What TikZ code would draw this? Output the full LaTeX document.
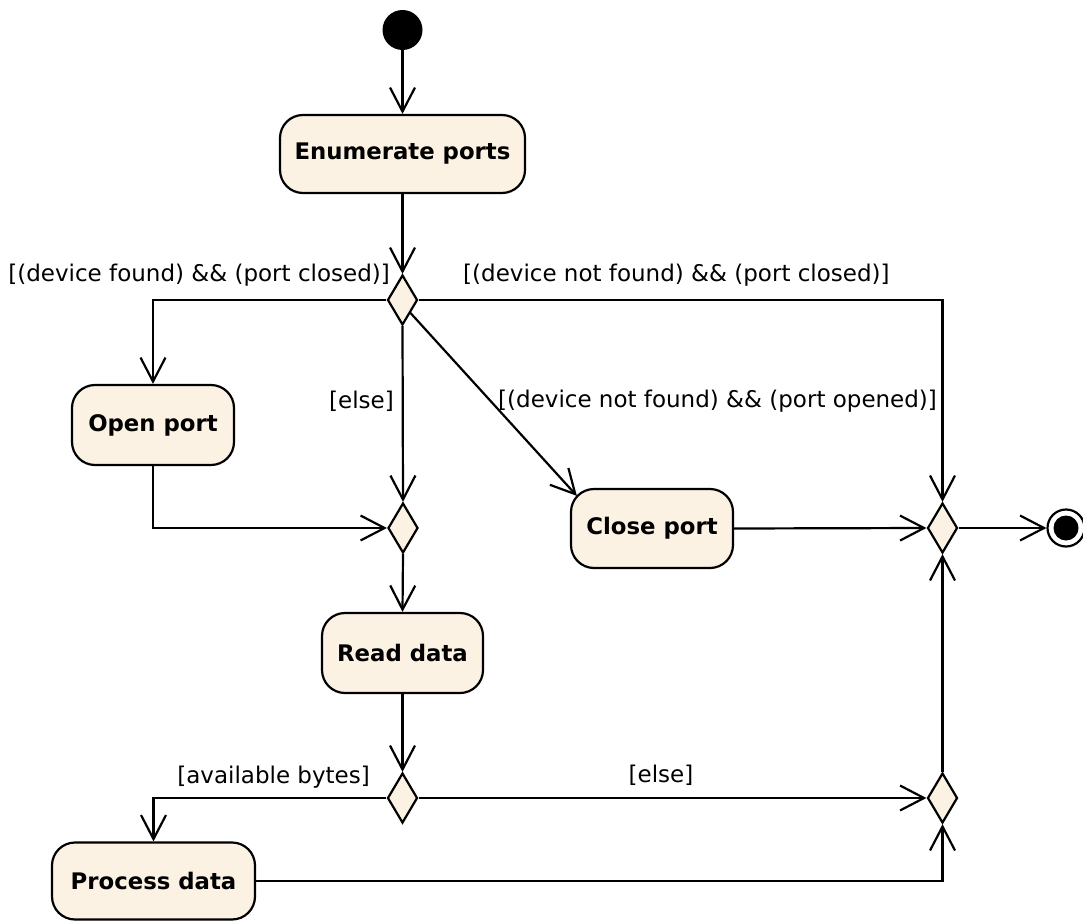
\documentclass[tikz,border=0pt]{standalone}
\usepackage{fontspec}
\setmainfont{DejaVu Sans}
\usetikzlibrary{shapes.geometric,arrows.meta,calc}
\definecolor{actfill}{HTML}{FBF2E4}
\begin{document}
\begin{tikzpicture}[x=1pt,y=-1pt,
  every node/.style={font=\fontsize{23}{27}\selectfont},
  action/.style={draw,line width=2.2pt,fill=actfill,rectangle,rounded corners=23pt,
    font=\fontsize{22.8}{27}\selectfont\bfseries,inner sep=0pt},
  branch/.style={draw,line width=2.2pt,fill=actfill,diamond,minimum width=30pt,
    minimum height=50pt,inner sep=0pt},
  guard/.style={inner sep=0pt},
  flow/.style={line width=2.2pt,-{Straight Barb[length=24pt,width=25pt]}}]
\useasboundingbox (0,0) rectangle (1083,920);

% start and end
\node[circle,fill=black,minimum size=40pt,inner sep=0pt] (start) at (402.5,30) {};
\node[circle,draw,line width=2.2pt,fill=white,minimum size=37pt,inner sep=0pt] (stop) at (1066,528) {};
\node[circle,fill=black,minimum size=25pt,inner sep=0pt] (stopdot) at (1066,528) {};

% actions
\node[action,minimum width=245pt,minimum height=78pt] (enum) at (402.5,154) {Enumerate ports};
\node[action,minimum width=162pt,minimum height=80pt] (open) at (153,425) {Open port};
\node[action,minimum width=162pt,minimum height=79pt] (close) at (652,528.5) {Close port};
\node[action,minimum width=161pt,minimum height=80pt] (read) at (402.5,653) {Read data};
\node[action,minimum width=203pt,minimum height=77pt] (proc) at (153.5,881) {Process data};

% decisions and merges
\node[branch] (d1) at (402.5,300) {};
\node[branch] (d2) at (403,528) {};
\node[branch] (d3) at (402.5,798) {};
\node[branch] (d4) at (942.5,798) {};
\node[branch] (dr) at (942.5,528) {};

\coordinate (closein) at ($(close.north west)+(7,8)$);

% flows
\draw[flow] (start) -- (enum.north);
\draw[flow] (enum.south) -- (d1.north);
\draw[flow] (d1.west) -| (open.north);
\draw[flow] (d1.east) -| (dr.north);
\draw[flow] (d1.south) -- (d2.north);
\draw[flow] (d1.south east) -- (closein);
\draw[flow] (open.south) |- (d2.west);
\draw[flow] (d2.south) -- (read.north);
\draw[flow] (read.south) -- (d3.north);
\draw[flow] (d3.west) -| (proc.north);
\draw[flow] (d3.east) -- (d4.west);
\draw[flow] (d4.north) -- (dr.south);
\draw[flow] (proc.east) -| (d4.south);
\draw[flow] (close.east) -- (dr.west);
\draw[flow] (dr.east) -- (stop.west);

% guards
\node[guard,anchor=east] (g1) at (390,275) {[(device found) \&\& (port closed)]};
\node[guard,anchor=west] (g2) at (463,275) {[(device not found) \&\& (port closed)]};
\node[guard,anchor=east] (g3) at (394,401) {[else]};
\node[guard,anchor=west] (g4) at (498,401) {[(device not found) \&\& (port opened)]};
\node[guard,anchor=east] (g5) at (370,777) {[available bytes]};
\node[guard] (g6) at (661,775) {[else]};
\end{tikzpicture}
\end{document}
